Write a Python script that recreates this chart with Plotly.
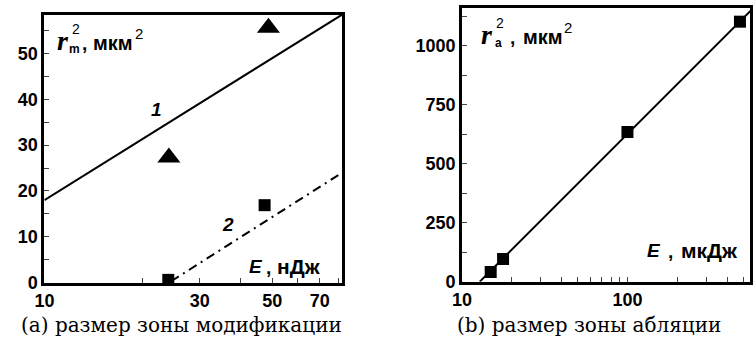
import plotly.graph_objects as go

W, H = 753, 347

# ---- data: panel (a) ----
tri_E = [24.1, 48.7]
tri_r2 = [27.3, 55.6]
sq_E = [24.0, 47.4]
sq_r2 = [0.6, 16.9]
fit1_E = [10, 82]
fit1_r2 = [18.0, 58.5]
fit2_E = [24.5, 82]
fit2_r2 = [0.3, 24.0]

# ---- data: panel (b) ----
abl_E = [14.9, 17.7, 100, 479]
abl_r2 = [41, 96, 635, 1103]
fitb_E = [12.8, 560]
fitb_r2 = [0, 1152]

a_xticks = [10, 20, 30, 40, 50, 60, 70, 80]
a_xlabels = ["10", "", "30", "", "50", "", "70", ""]
a_yticks = [0, 5, 10, 15, 20, 25, 30, 35, 40, 45, 50, 55]
a_ylabels = ["0", "", "10", "", "20", "", "30", "", "40", "", "50", ""]
b_xticks = [10, 20, 30, 40, 50, 60, 70, 80, 90, 100, 200, 300, 400, 500]
b_xlabels = ["10", "", "", "", "", "", "", "", "", "100", "", "", "", ""]
b_yticks = [0, 125, 250, 375, 500, 625, 750, 875, 1000, 1125]
b_ylabels = ["0", "", "250", "", "500", "", "750", "", "1000", ""]

fig = go.Figure()

fig.add_trace(go.Scatter(x=fit1_E, y=fit1_r2, mode="lines", line=dict(color="black", width=2),
                         xaxis="x", yaxis="y", showlegend=False))
fig.add_trace(go.Scatter(x=fit2_E, y=fit2_r2, mode="lines",
                         line=dict(color="black", width=2, dash="9px,5px,2px,5px"),
                         xaxis="x", yaxis="y", showlegend=False))
fig.add_trace(go.Scatter(x=tri_E, y=tri_r2, mode="markers",
                         marker=dict(symbol="triangle-up", size=20, color="black"),
                         xaxis="x", yaxis="y", showlegend=False, cliponaxis=False))
fig.add_trace(go.Scatter(x=sq_E, y=sq_r2, mode="markers",
                         marker=dict(symbol="square", size=12, color="black"),
                         xaxis="x", yaxis="y", showlegend=False, cliponaxis=False))

fig.add_trace(go.Scatter(x=fitb_E, y=fitb_r2, mode="lines", line=dict(color="black", width=2),
                         xaxis="x2", yaxis="y2", showlegend=False))
fig.add_trace(go.Scatter(x=abl_E, y=abl_r2, mode="markers",
                         marker=dict(symbol="square", size=12, color="black"),
                         xaxis="x2", yaxis="y2", showlegend=False, cliponaxis=False))

tickfont = dict(family="Liberation Sans", size=18, color="black", weight="bold")
common = dict(showline=True, linecolor="black", linewidth=3, mirror=True, showgrid=False,
              zeroline=False, ticks="inside", ticklen=5, tickwidth=1, tickcolor="#444",
              tickfont=tickfont, fixedrange=True)

def px(x):
    return x / W

def py(y):
    return 1 - y / H

fig.update_layout(
    width=W, height=H, margin=dict(l=0, r=0, t=0, b=0),
    paper_bgcolor="white", plot_bgcolor="white",
    xaxis=dict(type="log", domain=[px(35), px(338)], range=[1, 1.9138],
               tickvals=a_xticks, ticktext=a_xlabels, anchor="y", **common),
    yaxis=dict(domain=[py(291), py(15)], range=[0, 58.5],
               tickvals=a_yticks, ticktext=a_ylabels, anchor="x", **common),
    xaxis2=dict(type="log", domain=[px(460), 1.0], range=[1, 2.741],
                tickvals=b_xticks, ticktext=b_xlabels, anchor="y2", **common),
    yaxis2=dict(domain=[py(290), py(8)], range=[0, 1162],
                tickvals=b_yticks, ticktext=b_ylabels, anchor="x2", **common),
)

ann = []

def text(x, y, s, size, family="Liberation Sans", bold=True, italic=False, xanchor="center"):
    ann.append(dict(x=px(x), y=py(y), xref="paper", yref="paper", text=s, showarrow=False,
                    xanchor=xanchor, yanchor="middle", borderpad=0,
                    font=dict(family=family, size=size, color="black",
                              weight="bold" if bold else "normal",
                              style="italic" if italic else "normal")))

# panel (a) axis title
text(54, 42, "r", 28, family="Liberation Serif", bold=True, italic=True)
text(66, 50, "m", 12)
text(67, 30, "2", 14, bold=False)
text(76, 45, ",", 19)
text(105, 44, "мкм", 20)
text(131, 34, "2", 15, bold=False)
# panel (a) x title
text(250, 274, "E", 19, italic=True)
text(263, 275, ",", 19)
text(294, 274, "нДж", 21)
# curve labels
text(149, 113, "1", 19, italic=True)
text(222, 231, "2", 19, italic=True)

# panel (b) axis title
text(485, 36, "r", 28, family="Liberation Serif", bold=True, italic=True)
text(497, 44, "a", 12)
text(499, 24, "2", 14, bold=False)
text(511, 39, ",", 19)
text(542, 38, "мкм", 20)
text(568, 28, "2", 15, bold=False)
# panel (b) x title
text(655, 258, "E", 19, italic=True)
text(672, 259, ",", 19)
text(712, 258, "мкДж", 21)

# captions
text(175, 335, "(a) размер зоны модификации", 20, family="DejaVu Serif", bold=False)
text(589, 335, "(b) размер зоны абляции", 20, family="DejaVu Serif", bold=False)

fig.update_layout(annotations=ann)
fig.write_html("out.html")
